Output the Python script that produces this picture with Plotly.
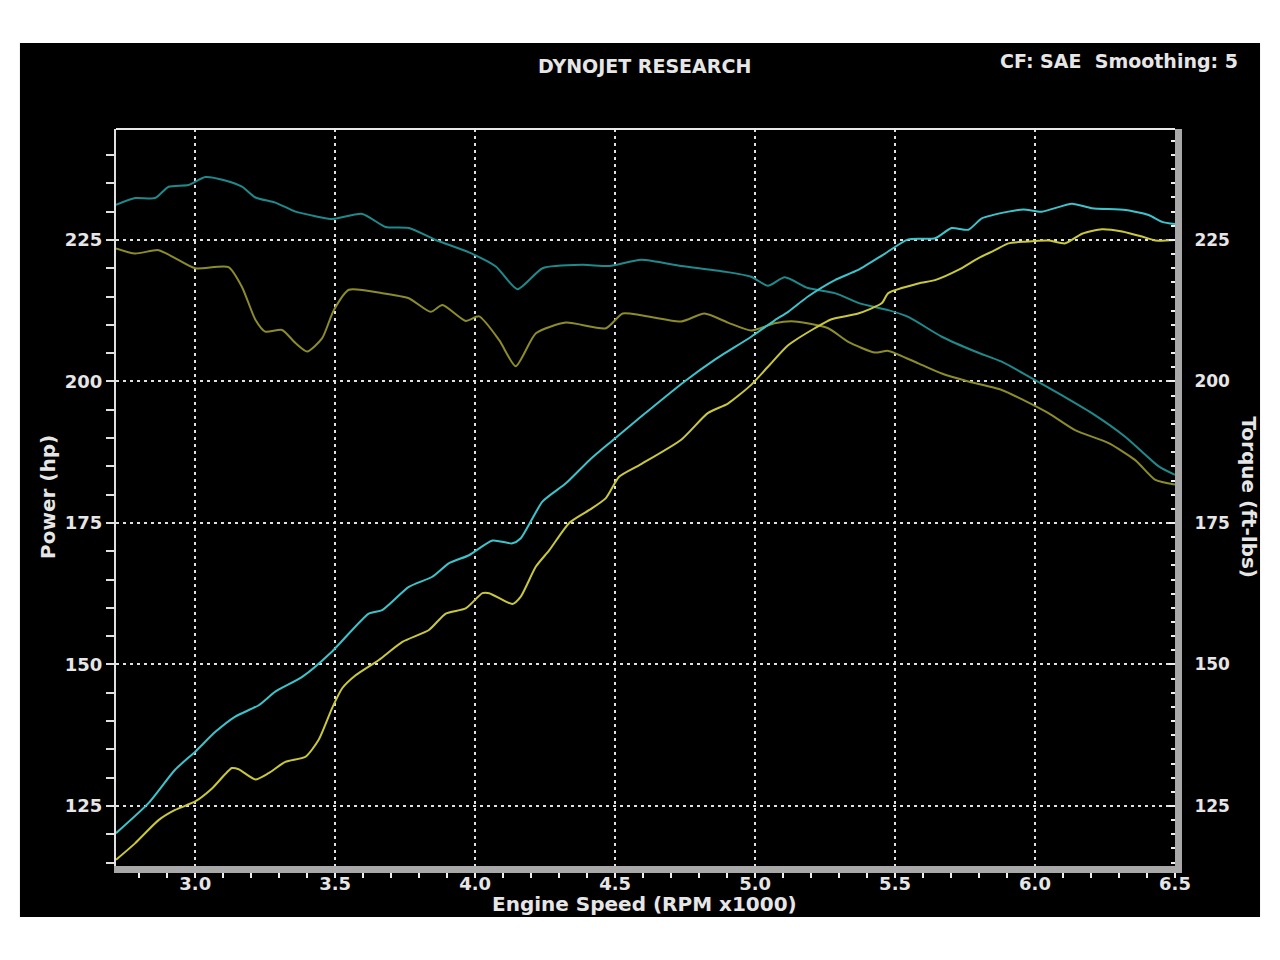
import plotly.graph_objects as go

# ---- data ----
torque1_rpm = [2.717, 2.785, 2.857, 2.905, 2.976, 3.036, 3.107, 3.167, 3.215, 3.286, 3.358, 3.429, 3.489, 3.597,
               3.68, 3.763, 3.859, 3.978, 4.074, 4.151, 4.241, 4.384, 4.479, 4.593, 4.736, 4.891, 4.986, 5.046,
               5.106, 5.189, 5.285, 5.38, 5.476, 5.547, 5.667, 5.786, 5.881, 5.959, 6.084, 6.203, 6.323, 6.442, 6.5]
torque1 = [231.2, 232.4, 232.4, 234.4, 234.7, 236.1, 235.5, 234.4, 232.5, 231.6, 230.0, 229.2, 228.7, 229.6,
           227.3, 227.1, 225.0, 222.8, 220.3, 216.3, 220.0, 220.6, 220.4, 221.5, 220.4, 219.4, 218.5, 216.9,
           218.4, 216.5, 215.6, 213.7, 212.6, 211.4, 207.9, 205.3, 203.5, 201.4, 197.9, 194.4, 190.2, 185.0, 183.5]

torque2_rpm = [2.717, 2.785, 2.869, 2.928, 3.0, 3.119, 3.167, 3.215, 3.25, 3.31, 3.358, 3.4, 3.453, 3.495, 3.549,
               3.668, 3.763, 3.841, 3.883, 3.966, 4.014, 4.086, 4.145, 4.217, 4.324, 4.467, 4.527, 4.593, 4.736,
               4.819, 4.903, 4.986, 5.07, 5.141, 5.261, 5.333, 5.428, 5.476, 5.583, 5.667, 5.762, 5.881, 5.959,
               6.048, 6.143, 6.263, 6.358, 6.43, 6.5]
torque2 = [223.5, 222.6, 223.2, 221.8, 220.0, 220.2, 216.7, 210.9, 208.8, 209.1, 206.8, 205.3, 207.6, 212.6, 216.2,
           215.6, 214.7, 212.3, 213.5, 210.7, 211.5, 207.3, 202.7, 208.5, 210.4, 209.4, 212.0, 211.7, 210.6,
           212.0, 210.4, 209.0, 210.3, 210.6, 209.4, 207.0, 205.1, 205.4, 203.2, 201.4, 200.0, 198.5, 196.7,
           194.4, 191.4, 189.1, 186.1, 182.6, 181.8]

power1_rpm = [2.717, 2.833, 2.928, 3.0, 3.072, 3.143, 3.227, 3.286, 3.382, 3.489, 3.62, 3.668, 3.763, 3.847, 3.907,
              3.978, 4.062, 4.133, 4.163, 4.241, 4.324, 4.408, 4.479, 4.593, 4.748, 4.855, 4.986, 5.07, 5.118,
              5.189, 5.285, 5.368, 5.464, 5.547, 5.643, 5.702, 5.762, 5.81, 5.905, 5.959, 6.024, 6.132, 6.203,
              6.323, 6.406, 6.454, 6.5]
power1 = [120.2, 125.5, 131.4, 134.6, 138.1, 140.8, 142.8, 145.2, 147.8, 152.3, 159.0, 159.6, 163.7, 165.5, 167.9,
          169.3, 171.9, 171.4, 172.3, 178.8, 182.0, 186.1, 189.1, 193.8, 200.0, 203.8, 207.9, 210.8, 212.3,
          215.0, 217.9, 219.7, 222.6, 225.1, 225.3, 227.1, 226.8, 228.8, 230.0, 230.4, 230.0, 231.4, 230.6,
          230.3, 229.4, 228.2, 227.8]

power2_rpm = [2.717, 2.785, 2.869, 2.928, 3.0, 3.06, 3.131, 3.155, 3.215, 3.262, 3.322, 3.394, 3.441, 3.489, 3.525,
              3.573, 3.656, 3.74, 3.835, 3.895, 3.966, 4.026, 4.05, 4.133, 4.163, 4.217, 4.265, 4.336, 4.408,
              4.467, 4.515, 4.593, 4.736, 4.831, 4.903, 4.986, 5.046, 5.118, 5.213, 5.273, 5.368, 5.452, 5.476,
              5.583, 5.643, 5.726, 5.798, 5.857, 5.905, 5.964, 6.048, 6.108, 6.168, 6.239, 6.311, 6.382, 6.43, 6.5]
power2 = [115.5, 118.4, 122.5, 124.3, 125.8, 128.1, 131.7, 131.5, 129.7, 130.8, 132.8, 133.7, 136.7, 142.3, 145.8,
          148.1, 150.8, 154.0, 156.1, 159.0, 159.9, 162.6, 162.6, 160.7, 162.0, 167.3, 170.2, 175.0, 177.3,
          179.4, 183.2, 185.4, 189.7, 194.4, 196.1, 199.4, 202.6, 206.4, 209.4, 211.0, 212.0, 213.8, 215.6,
          217.3, 217.9, 219.7, 221.8, 223.2, 224.4, 224.7, 224.9, 224.4, 226.1, 226.9, 226.5, 225.6, 224.9, 225.0]

x_ticks = [3.0, 3.5, 4.0, 4.5, 5.0, 5.5, 6.0, 6.5]
x_labels = ["3.0", "3.5", "4.0", "4.5", "5.0", "5.5", "6.0", "6.5"]
y_ticks = [125, 150, 175, 200, 225]
y_labels = ["125", "150", "175", "200", "225"]

X_RANGE = [2.717, 6.5]
Y_RANGE = [114.4, 244.6]

FONT = "DejaVu Sans"
TXT = "#e6e6e6"

fig = go.Figure()

def add_line(x, y, color, yaxis="y"):
    fig.add_trace(go.Scatter(x=x, y=y, mode="lines", yaxis=yaxis,
                             line=dict(color=color, width=2, shape="spline", smoothing=0.6),
                             hoverinfo="skip", showlegend=False))

add_line(torque1_rpm, torque1, "#1f8a8c")
add_line(torque2_rpm, torque2, "#8c8c2a")
add_line(power1_rpm, power1, "#3cc4cc")
add_line(power2_rpm, power2, "#c8c83a")

# outer black panel
fig.add_shape(type="rect", xref="paper", yref="paper",
              x0=-0.0907, x1=1.0803, y0=-0.0692, y1=1.1167,
              fillcolor="black", line=dict(width=0), layer="below")
# top border
fig.add_shape(type="line", xref="paper", yref="paper", x0=0, x1=1, y0=1, y1=1,
              line=dict(color="#e8e8e8", width=2))

tick_font = dict(family=FONT, size=18, color=TXT, weight="bold")
tick_font_r = dict(family=FONT, size=17, color=TXT, weight="bold")

fig.update_layout(
    width=1272, height=952,
    margin=dict(l=108, r=105, t=121, b=94),
    paper_bgcolor="white", plot_bgcolor="black",
    showlegend=False,
    xaxis=dict(range=X_RANGE, tickvals=x_ticks, ticktext=x_labels,
               showgrid=True, gridcolor="#e0e0e0", gridwidth=2, griddash="3px,4px",
               showline=True, linecolor="#a8a8a8", linewidth=7,
               ticks="outside", ticklen=5, tickwidth=2, tickcolor="#f0f0f0",
               minor=dict(dtick=0.1, tick0=3.0, ticks="outside", ticklen=5, tickwidth=2,
                          tickcolor="#f0f0f0", showgrid=False),
               tickfont=tick_font,
               ticklabelstandoff=-10, zeroline=False),
    yaxis=dict(range=Y_RANGE, tickvals=y_ticks, ticktext=y_labels,
               showgrid=True, gridcolor="#e0e0e0", gridwidth=2, griddash="3px,4px",
               showline=True, linecolor="#e0e0e0", linewidth=2,
               ticks="outside", ticklen=8, tickwidth=2, tickcolor="#e0e0e0",
               minor=dict(dtick=5, tick0=125, ticks="outside", ticklen=8, tickwidth=2,
                          tickcolor="#e0e0e0", showgrid=False),
               tickfont=tick_font,
               ticklabelstandoff=0, zeroline=False),
    yaxis2=dict(range=Y_RANGE, tickvals=y_ticks, ticktext=y_labels,
                overlaying="y", side="right", showgrid=False,
                showline=True, linecolor="#a8a8a8", linewidth=7,
                ticks="inside", ticklen=6, tickwidth=2, tickcolor="#f0f0f0",
                minor=dict(dtick=2.5, tick0=125, ticks="inside", ticklen=4, tickwidth=2,
                           tickcolor="#f0f0f0", showgrid=False),
                tickfont=tick_font_r,
                ticklabelstandoff=9, zeroline=False),
)

# invisible trace to activate right axis
fig.add_trace(go.Scatter(x=[X_RANGE[0]], y=[Y_RANGE[0]], yaxis="y2", mode="markers",
                         marker=dict(opacity=0), hoverinfo="skip", showlegend=False))

ann_font = dict(family=FONT, size=19, color=TXT, weight="bold")
axis_title_font = dict(family=FONT, size=20, color=TXT, weight="bold")
fig.add_annotation(text="DYNOJET RESEARCH", xref="paper", yref="paper", x=0.4995, y=1.0855,
                   showarrow=False, font=ann_font, xanchor="center", yanchor="middle")
fig.add_annotation(text="CF: SAE  Smoothing: 5", xref="paper", yref="paper", x=1.0614, y=1.0923,
                   showarrow=False, font=ann_font, xanchor="right", yanchor="middle")
fig.add_annotation(text="Power (hp)", xref="paper", yref="paper", x=-0.0642, y=0.5007,
                   showarrow=False, font=axis_title_font, textangle=-90, xanchor="center", yanchor="middle")
fig.add_annotation(text="Torque (ft-lbs)", xref="paper", yref="paper", x=1.0695, y=0.5007,
                   showarrow=False, font=axis_title_font, textangle=90, xanchor="center", yanchor="middle")
fig.add_annotation(text="Engine Speed (RPM x1000)", xref="paper", yref="paper", x=0.4995, y=-0.0516,
                   showarrow=False, font=axis_title_font, xanchor="center", yanchor="middle")

fig.write_html("out.html")
